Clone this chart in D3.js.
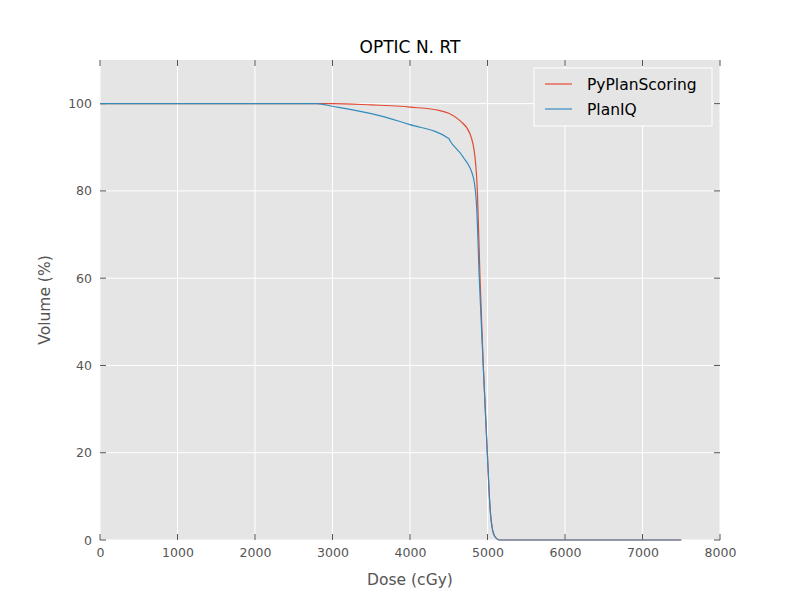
<!DOCTYPE html>
<html><head><meta charset="utf-8">
<script src="https://cdn.jsdelivr.net/npm/d3@7"></script>
<style>body{margin:0;background:#fff}</style></head>
<body><svg id="c" width="800" height="600"></svg>
<script>
const seriesNames = ["PyPlanScoring", "PlanIQ"];
const colors = ["#E24A33", "#348ABD"];
const pyDose = [0,2800,3000,3500,3871,4000,4387,4500,4645,4774,4839,4869,4903,4946,4998,5032,5075,5118,5150,6000,7500];
const pyVol  = [100,100,100,99.7,99.4,99.2,98.4,97.8,96.1,93.1,87.7,80,60.3,39.7,19.9,7.6,1.6,0.3,0,0,0];
const iqDose = [0,2800,3000,3500,3871,4000,4500,4516,4688,4817,4860,4894,4946,4998,5032,5075,5118,5150,6000,7500];
const iqVol  = [100,100,99.4,97.7,95.9,95.2,92.0,91.5,87.7,83.1,76.3,60,39.7,19.9,7.6,1.6,0.3,0,0,0];
const xTicks = [0,1000,2000,3000,4000,5000,6000,7000,8000];
const yTicks = [0,20,40,60,80,100];

const svg = d3.select("#c");
const m = {l:100, r:720, t:60, b:540};
const x = d3.scaleLinear().domain([0,8000]).range([m.l,m.r]);
const y = d3.scaleLinear().domain([0,110]).range([m.b,m.t]);
const font = "DejaVu Sans";
svg.append("rect").attr("x",m.l).attr("y",m.t).attr("width",m.r-m.l).attr("height",m.b-m.t).attr("fill","#E5E5E5");
xTicks.forEach(t=>svg.append("line").attr("x1",x(t)).attr("x2",x(t)).attr("y1",m.t).attr("y2",m.b).attr("stroke","#fff"));
yTicks.forEach(t=>svg.append("line").attr("y1",y(t)).attr("y2",y(t)).attr("x1",m.l).attr("x2",m.r).attr("stroke","#fff"));
const gx = svg.append("g").attr("transform",`translate(0,${m.b})`).call(d3.axisBottom(x).tickValues(xTicks).tickSize(0).tickPadding(8).tickFormat(d3.format("d")));
const gy = svg.append("g").attr("transform",`translate(${m.l},0)`).call(d3.axisLeft(y).tickValues(yTicks).tickSize(0).tickPadding(8));
[gx,gy].forEach(g=>{g.select(".domain").remove();g.selectAll("text").attr("font-family",font).attr("font-size",12.5).attr("fill","#555");});
// tick marks (outward-ish, like mpl ggplot)
xTicks.forEach(t=>{svg.append("line").attr("x1",x(t)).attr("x2",x(t)).attr("y1",m.b-6).attr("y2",m.b).attr("stroke","#555");svg.append("line").attr("x1",x(t)).attr("x2",x(t)).attr("y1",m.t).attr("y2",m.t+6).attr("stroke","#555");});
yTicks.forEach(t=>{svg.append("line").attr("y1",y(t)).attr("y2",y(t)).attr("x1",m.l).attr("x2",m.l+6).attr("stroke","#555");svg.append("line").attr("y1",y(t)).attr("y2",y(t)).attr("x1",m.r-6).attr("x2",m.r).attr("stroke","#555");});

const line = d3.line().x(d=>x(d[0])).y(d=>y(d[1])).curve(d3.curveMonotoneX);
[[pyDose,pyVol],[iqDose,iqVol]].forEach((s,i)=>{
  svg.append("path").attr("d",line(d3.zip(s[0],s[1]))).attr("fill","none").attr("stroke",colors[i]).attr("stroke-width",1.2);
});
svg.append("text").attr("x",410).attr("y",53).attr("text-anchor","middle").attr("font-family",font).attr("font-size",17).text("OPTIC N. RT");
svg.append("text").attr("x",410).attr("y",585).attr("text-anchor","middle").attr("font-family",font).attr("font-size",15.5).attr("fill","#555").text("Dose (cGy)");
svg.append("text").attr("transform","translate(50,300) rotate(-90)").attr("text-anchor","middle").attr("font-family",font).attr("font-size",15.5).attr("fill","#555").text("Volume (%)");
const lg = svg.append("g");
lg.append("rect").attr("x",534).attr("y",68).attr("width",178).attr("height",58).attr("fill","#E5E5E5").attr("stroke","#fff");
seriesNames.forEach((n,i)=>{
  const yy = 84+i*25;
  lg.append("line").attr("x1",545).attr("x2",572).attr("y1",yy).attr("y2",yy).attr("stroke",colors[i]).attr("stroke-width",1.2);
  lg.append("text").attr("x",587).attr("y",yy+6).attr("font-family",font).attr("font-size",15.5).text(n);
});
</script></body></html>
